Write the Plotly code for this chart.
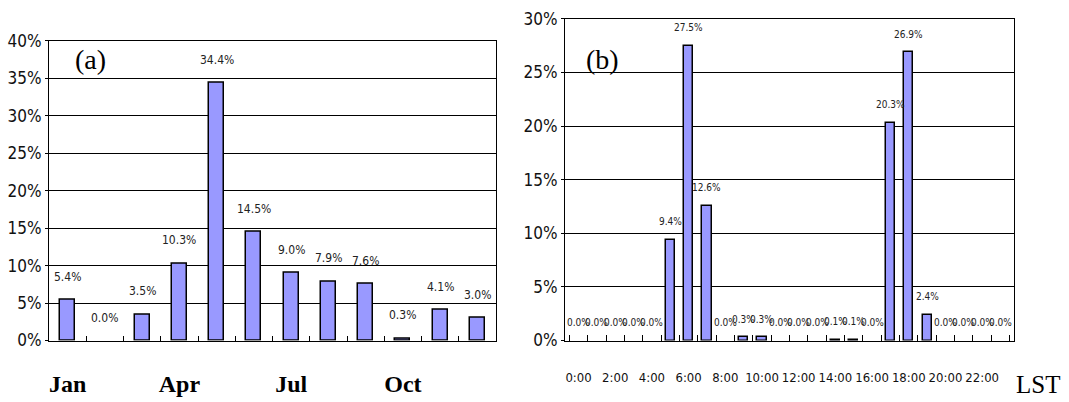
import plotly.graph_objects as go

# ---- data ----
months = ["Jan", "Feb", "Mar", "Apr", "May", "Jun", "Jul", "Aug", "Sep", "Oct", "Nov", "Dec"]
month_labels = ["Jan", "", "", "Apr", "", "", "Jul", "", "", "Oct", "", ""]
month_pct = [5.4, 0.0, 3.5, 10.3, 34.4, 14.5, 9.0, 7.9, 7.6, 0.3, 4.1, 3.0]

hours = [f"{h}:00" for h in range(24)]
hour_labels = [f"{h}:00" if h % 2 == 0 else "" for h in range(24)]
hour_pct = [0.0, 0.0, 0.0, 0.0, 0.0, 9.4, 27.5, 12.6, 0.0, 0.3, 0.3, 0.0,
            0.0, 0.0, 0.1, 0.1, 0.0, 20.3, 26.9, 2.4, 0.0, 0.0, 0.0, 0.0]

W, H = 1069, 402
NARROW = "DejaVu Sans Condensed, Liberation Sans Narrow, Arial Narrow, sans-serif"
SERIF = "Liberation Serif, Times New Roman, serif"
BAR_FILL = "#9999FF"

# effective vertical plotting band observed in the renderer
Y0, YH = 8.0, 386.0


def py(pix):
    """paper y fraction for a pixel row measured from the top"""
    return 1 - (pix - Y0) / YH


def outline(vals):
    # zero-height bars show no outline in the reference
    return [1.5 if v > 0 else 0 for v in vals]


fig = go.Figure()
fig.add_trace(go.Bar(x=months, y=month_pct, xaxis="x", yaxis="y", width=0.4,
                     marker=dict(color=BAR_FILL, line=dict(color="black", width=outline(month_pct))),
                     showlegend=False, hoverinfo="x+y"))
fig.add_trace(go.Bar(x=hours, y=hour_pct, xaxis="x2", yaxis="y2", width=0.5,
                     marker=dict(color=BAR_FILL, line=dict(color="black", width=outline(hour_pct))),
                     showlegend=False, hoverinfo="x+y"))

ann = []
for m, v in zip(months, month_pct):
    ann.append(dict(x=m, y=v, xref="x", yref="y", text=f"{v:.1f}%", showarrow=False,
                    yshift=23, font=dict(family=NARROW, size=12, color="#222")))
for h, v in zip(hours, hour_pct):
    ann.append(dict(x=h, y=v, xref="x2", yref="y2", text=f"{v:.1f}%", showarrow=False,
                    yshift=18, font=dict(family=NARROW, size=10, color="#222")))
ann.append(dict(x=90 / W, y=py(58), xref="paper", yref="paper", text="(a)", showarrow=False,
                xanchor="center", yanchor="middle",
                font=dict(family=SERIF, size=28, color="black")))
ann.append(dict(x=602 / W, y=py(58), xref="paper", yref="paper", text="(b)", showarrow=False,
                xanchor="center", yanchor="middle",
                font=dict(family=SERIF, size=28, color="black")))
ann.append(dict(x=1038 / W, y=py(386), xref="paper", yref="paper", text="LST", showarrow=False,
                xanchor="center", yanchor="middle",
                font=dict(family=SERIF, size=25, color="black")))

axis_common = dict(showline=True, linecolor="black", linewidth=1, mirror=True)

fig.update_layout(
    width=W, height=H, margin=dict(l=0, r=0, t=0, b=0, pad=0),
    paper_bgcolor="white", plot_bgcolor="white",
    bargap=0, showlegend=False,
    annotations=ann,
    xaxis=dict(domain=[49 / W, 496 / W], type="category", tickvals=months, ticktext=month_labels,
               tickson="boundaries", ticks="inside", ticklen=5, tickcolor="black",
               showgrid=False, ticklabelstandoff=22, anchor="y", tickangle=0,
               tickfont=dict(family=SERIF, size=24, color="black", weight="bold"),
               **axis_common),
    yaxis=dict(domain=[py(342), py(39)], range=[0, 40], dtick=5, ticksuffix="%",
               showgrid=True, gridcolor="black", gridwidth=1, ticks="outside", ticklen=3,
               tickcolor="black", anchor="x", zeroline=False,
               tickfont=dict(family=NARROW, size=17, color="#111"), **axis_common),
    xaxis2=dict(domain=[565 / W, 1014 / W], type="category", tickvals=hours, ticktext=hour_labels,
                tickson="boundaries", ticks="inside", ticklen=6, tickcolor="black",
                showgrid=False, ticklabelstandoff=25, anchor="y2", tickangle=0,
                tickfont=dict(family=NARROW, size=13, color="#111"), **axis_common),
    yaxis2=dict(domain=[py(342), py(17)], range=[0, 30], dtick=5, ticksuffix="%",
                showgrid=True, gridcolor="black", gridwidth=1, ticks="outside", ticklen=3,
                tickcolor="black", anchor="x2", zeroline=False,
                tickfont=dict(family=NARROW, size=17, color="#111"), **axis_common),
)

fig.write_html("out.html", config={"displayModeBar": False},
               post_script="document.body.style.margin='0';")
